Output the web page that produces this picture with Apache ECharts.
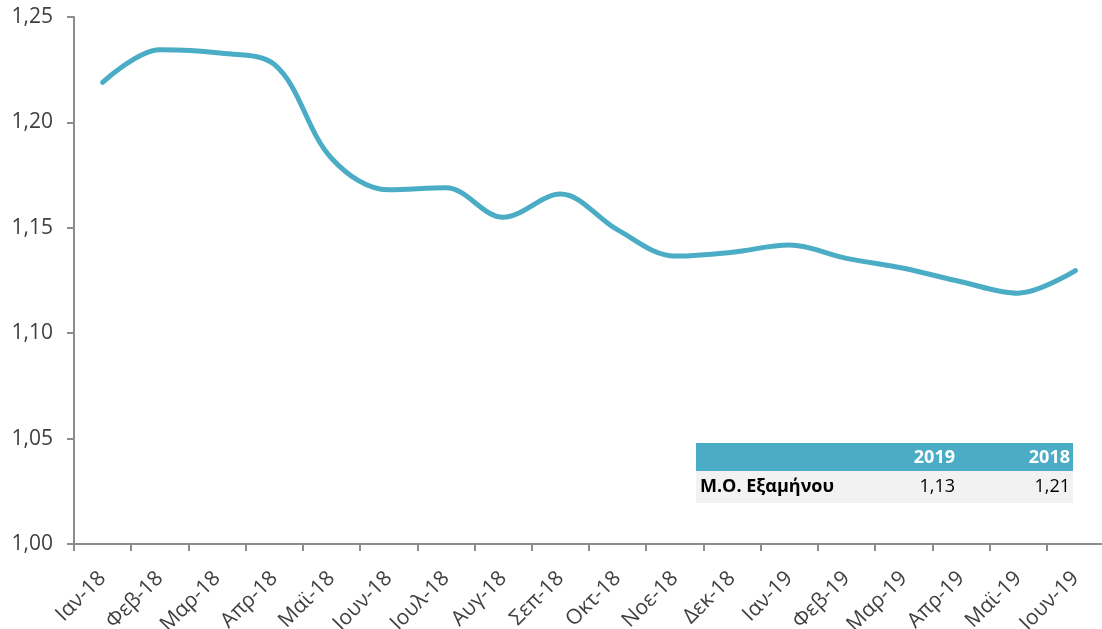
<!DOCTYPE html>
<html><head><meta charset="utf-8">
<script src="https://cdn.jsdelivr.net/npm/echarts@6/dist/echarts.min.js"></script>
<style>html,body{margin:0;padding:0;background:#fff}#c{width:1102px;height:629px}</style>
</head><body><div id="c"></div>
<script>
const categories = ['Ιαν-18','Φεβ-18','Μαρ-18','Απρ-18','Μαϊ-18','Ιουν-18','Ιουλ-18','Αυγ-18','Σεπ-18','Οκτ-18','Νοε-18','Δεκ-18','Ιαν-19','Φεβ-19','Μαρ-19','Απρ-19','Μαϊ-19','Ιουν-19'];
const values = [1.219,1.2345,1.2330,1.2275,1.183,1.168,1.169,1.155,1.166,1.149,1.1366,1.1384,1.1418,1.1355,1.1308,1.1244,1.119,1.1297];
const tableHeaders = ['2019','2018'];
const tableRowLabel = 'Μ.Ο. Εξαμήνου';
const tableValues = ['1,13','1,21'];

const chart = echarts.init(document.getElementById('c'));
const font = '"Open Sans", "Noto Sans", sans-serif';
const tx = 696, ty = 443, tw = 377, hh = 28, rh = 32;
chart.setOption({
  animation:false,
  grid:{left:74, right:-2, top:17, bottom:85, containLabel:false, outerBoundsMode:'none'},
  xAxis:{type:'category', data:categories, boundaryGap:true,
    axisLine:{lineStyle:{color:'#8c8c8c', width:2}},
    axisTick:{show:true, length:7, lineStyle:{color:'#8c8c8c', width:2}},
    axisLabel:{rotate:45, fontSize:21, color:'#404040', fontFamily:font, margin:31, interval:0}},
  yAxis:{type:'value', min:1.0, max:1.25, interval:0.05,
    axisLine:{show:true, lineStyle:{color:'#8c8c8c', width:2}},
    axisTick:{show:true, length:7, lineStyle:{color:'#8c8c8c', width:2}},
    splitLine:{show:false},
    axisLabel:{fontSize:21, color:'#404040', fontFamily:font, margin:21,
      formatter:v=>v.toFixed(2).replace('.',',')}},
  series:[{type:'line', data:values, smooth:0.35, symbol:'none',
    lineStyle:{color:'#4BACC6', width:5, cap:'round'}}],
  graphic:[
    {type:'rect', shape:{x:tx,y:ty,width:tw,height:hh}, style:{fill:'#4BACC6'}},
    {type:'rect', shape:{x:tx,y:ty+hh,width:tw,height:rh}, style:{fill:'#F2F2F2'}},
    {type:'text', x:955, y:ty+hh/2+1, style:{text:tableHeaders[0], fill:'#fff', font:'bold 18px '+font, textAlign:'right', textVerticalAlign:'middle'}},
    {type:'text', x:1070, y:ty+hh/2+1, style:{text:tableHeaders[1], fill:'#fff', font:'bold 18px '+font, textAlign:'right', textVerticalAlign:'middle'}},
    {type:'text', x:700, y:ty+hh+rh/2, style:{text:tableRowLabel, fill:'#000', font:'bold 18px '+font, textAlign:'left', textVerticalAlign:'middle'}},
    {type:'text', x:955, y:ty+hh+rh/2, style:{text:tableValues[0], fill:'#000', font:'18px '+font, textAlign:'right', textVerticalAlign:'middle'}},
    {type:'text', x:1070, y:ty+hh+rh/2, style:{text:tableValues[1], fill:'#000', font:'18px '+font, textAlign:'right', textVerticalAlign:'middle'}}
  ]
});
</script></body></html>
